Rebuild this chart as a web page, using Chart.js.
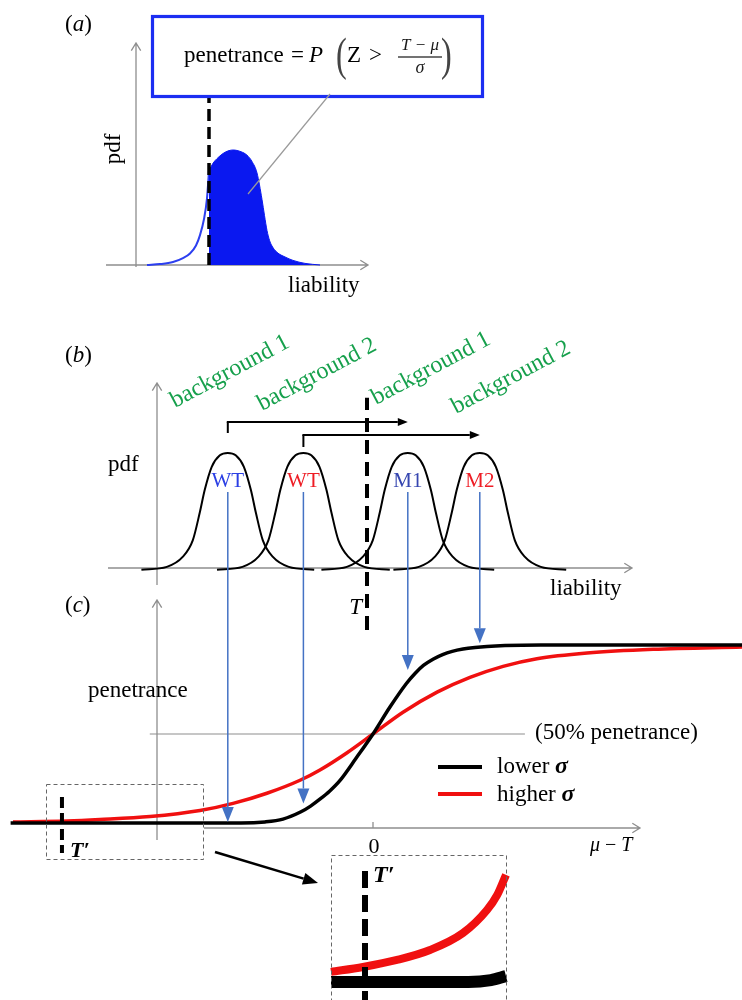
<!DOCTYPE html>
<html>
<head>
<meta charset="utf-8">
<title>liability threshold and penetrance</title>
<script src="https://cdn.jsdelivr.net/npm/chart.js@4.4.1/dist/chart.umd.min.js"></script>
<style>
  html, body { margin:0; padding:0; background:#fff; }
  canvas { display:block; }
</style>
</head>
<body>
<canvas id="fig" width="742" height="1000"></canvas>
<script>
/* three panels on one canvas, each panel has its own pair of hidden linear scales */

// (a) one liability distribution, cut at the threshold
const A_LIAB = [-4.3, -3.65, -3.0, -2.5, -2.15, -1.85, -1.65, -1.45, -1.3, -1.2, -1.0, -0.8, -0.4, 0,
                0.4, 0.7, 0.95, 1.2, 1.45, 1.575, 1.7, 1.825, 1.95, 2.2, 2.6, 3.0, 3.6, 4.35];
const A_PDF  = [0, 0.008, 0.026, 0.06, 0.1, 0.17, 0.26, 0.4, 0.58, 0.82, 0.885, 0.925, 0.98, 1,
                0.985, 0.955, 0.9, 0.8, 0.57, 0.43, 0.3, 0.215, 0.165, 0.11, 0.07, 0.04, 0.014, 0];
const A_THRESHOLD = -1.2;

// (b) the pdf shape (offset from its mean), same for the four distributions
const B_SHAPE_X   = [-3.6, -2.54, -1.88, -1.46, -1.17, -0.96, -0.67, -0.33, 0, 0.33, 0.67, 0.96, 1.17, 1.46, 1.88, 2.54, 3.6];
const B_SHAPE_PDF = [-0.015, 0.01, 0.096, 0.24, 0.48, 0.68, 0.88, 0.98, 1, 0.98, 0.88, 0.68, 0.48, 0.24, 0.096, 0.01, -0.015];
const B_MEANS  = [-5.8, -2.65, 1.7, 4.7];          // liability, T = 0
const B_LABELS = ['WT', 'WT', 'M1', 'M2'];
const B_LABEL_COLORS = ['#2b3fe4', '#ee1d25', '#3646b0', '#ee1d25'];
const B_BACKGROUNDS  = ['background 1', 'background 2', 'background 1', 'background 2'];

// (c) penetrance against mu - T
const C_LOWER_X  = [-15.1, -5.5, -4.5, -3.75, -3.0, -2.6, -2.2, -1.8, -1.4, -0.7, 0,
                    0.7, 1.4, 1.75, 2.1, 2.5, 2.9, 3.3, 3.75, 4.25, 4.75, 5.5, 7, 15.4];
const C_LOWER_Y  = [0, 0, 0.006, 0.022, 0.063, 0.095, 0.135, 0.18, 0.235, 0.365, 0.5,
                    0.65, 0.785, 0.84, 0.885, 0.92, 0.946, 0.964, 0.977, 0.986, 0.992, 0.997, 1.0, 1.0];
const C_HIGHER_X = [-15, -12.75, -11.38, -9.29, -7.21, -5.83, -4.42, -3.04, -2.21, -1.08, 0,
                    1.25, 2.67, 4.04, 5.42, 6.83, 8.92, 11.67, 15.4];
const C_HIGHER_Y = [0.006, 0.011, 0.019, 0.036, 0.07, 0.11, 0.167, 0.24, 0.298, 0.395, 0.5,
                    0.622, 0.735, 0.818, 0.88, 0.923, 0.955, 0.976, 0.989];
const C_ARROW_TIPS = [0.006, 0.11, 0.86, 1.01];    // where the blue arrows stop
const C_T_PRIME = -12.96;

// inset: the low tail, magnified
const D_HIGHER_X = [0, 1.28, 2.64, 3.96, 5.28, 6.24, 6.65, 7.0];
const D_HIGHER_Y = [0.0063, 0.0094, 0.0138, 0.02, 0.0306, 0.045, 0.0544, 0.067];
const D_LOWER_X  = [0, 5.5, 6.4, 7.0];
const D_LOWER_Y  = [0, 0, 0.0012, 0.0037];
const D_T_PRIME = 1.36;

const W = 742, H = 1000;
const SERIF = '"Liberation Serif", "Times New Roman", serif';
const AXIS_GREY = '#8e8e8e';
const ARROW_BLUE = '#4472c4';

// where each panel sits: [pixel of value 0, pixels per unit]
const PLACE = {
  xa: [233, 20], ya: [265, 115],
  xb: [367, 24], yb: [568, 115],
  xc: [373, 24], yc: [823, 178],
  xd: [331, 25], yd: [982, 1600]
};

const scales = {};
Object.keys(PLACE).forEach(id => {
  const [p0, ppu] = PLACE[id];
  const isX = id[0] === 'x';
  scales[id] = {
    type: 'linear', axis: isX ? 'x' : 'y', display: false,
    min: isX ? -p0 / ppu : -(H - p0) / ppu,
    max: isX ? (W - p0) / ppu : p0 / ppu
  };
});

const layers = [];   // bottom first
function addLine(xid, yid, xs, ys, style){
  layers.push(Object.assign({
    data: xs.map((x, i) => ({ x, y: ys[i] })),
    xAxisID: xid, yAxisID: yid,
    pointRadius: 0, fill: false,
    borderColor: '#000', borderWidth: 2,
    cubicInterpolationMode: 'monotone'
  }, style));
}
const straight = { cubicInterpolationMode: 'default', tension: 0 };

// (a)
const tailIdx = A_LIAB.map((x, i) => i).filter(i => A_LIAB[i] <= A_THRESHOLD);
const areaIdx = A_LIAB.map((x, i) => i).filter(i => A_LIAB[i] >= A_THRESHOLD);
addLine('xa', 'ya', tailIdx.map(i => A_LIAB[i]), tailIdx.map(i => A_PDF[i]), { borderColor: '#2c3ff0', borderWidth: 2 });
addLine('xa', 'ya', areaIdx.map(i => A_LIAB[i]), areaIdx.map(i => A_PDF[i]),
  { borderColor: '#0a18f0', borderWidth: 1, backgroundColor: '#0a18f0', fill: 'origin' });
addLine('xa', 'ya', [A_THRESHOLD, A_THRESHOLD], [0, 1.46], Object.assign({ borderWidth: 3.5, borderDash: [12, 6] }, straight));

// (b)
B_MEANS.forEach(m => addLine('xb', 'yb', B_SHAPE_X.map(d => m + d), B_SHAPE_PDF, { borderWidth: 2 }));
addLine('xb', 'yb', [0, 0], [-0.54, 1.48], Object.assign({ borderWidth: 4, borderDash: [14, 8] }, straight));

// (c)
addLine('xc', 'yc', [-9.3, 6.33], [0.5, 0.5], Object.assign({ borderColor: AXIS_GREY, borderWidth: 1.2 }, straight));
addLine('xc', 'yc', C_HIGHER_X, C_HIGHER_Y, { borderColor: '#f01010', borderWidth: 3.5 });
addLine('xc', 'yc', C_LOWER_X, C_LOWER_Y, { borderWidth: 3.5 });
addLine('xc', 'yc', [C_T_PRIME, C_T_PRIME], [0.146, -0.169], Object.assign({ borderWidth: 4, borderDash: [11, 5] }, straight));

// inset
addLine('xd', 'yd', D_HIGHER_X, D_HIGHER_Y, { borderColor: '#f01010', borderWidth: 8 });
addLine('xd', 'yd', D_LOWER_X, D_LOWER_Y, { borderWidth: 12 });
addLine('xd', 'yd', [D_T_PRIME, D_T_PRIME], [0.0694, -0.02], Object.assign({ borderWidth: 6, borderDash: [17, 7] }, straight));

layers.forEach((d, i) => d.order = layers.length - i);

// drawing helpers
function openArrow(ctx, x1, y1, x2, y2){
  const a = Math.atan2(y2 - y1, x2 - x1), L = 9, s = 0.55;
  ctx.save();
  ctx.strokeStyle = AXIS_GREY; ctx.lineWidth = 1.3;
  ctx.beginPath();
  ctx.moveTo(x1, y1); ctx.lineTo(x2, y2);
  ctx.moveTo(x2 - L * Math.cos(a - s), y2 - L * Math.sin(a - s));
  ctx.lineTo(x2, y2);
  ctx.lineTo(x2 - L * Math.cos(a + s), y2 - L * Math.sin(a + s));
  ctx.stroke();
  ctx.restore();
}
function solidArrow(ctx, x1, y1, x2, y2, color, lw, len, half){
  const a = Math.atan2(y2 - y1, x2 - x1);
  const bx = x2 - len * Math.cos(a), by = y2 - len * Math.sin(a);
  ctx.save();
  ctx.strokeStyle = color; ctx.fillStyle = color; ctx.lineWidth = lw;
  ctx.beginPath(); ctx.moveTo(x1, y1); ctx.lineTo(bx, by); ctx.stroke();
  ctx.beginPath();
  ctx.moveTo(x2, y2);
  ctx.lineTo(bx + half * Math.sin(a), by - half * Math.cos(a));
  ctx.lineTo(bx - half * Math.sin(a), by + half * Math.cos(a));
  ctx.closePath(); ctx.fill();
  ctx.restore();
}
function runs(ctx, x, y, parts){
  parts.forEach(([t, f, c]) => {
    ctx.font = f; ctx.fillStyle = c || '#000';
    ctx.fillText(t, x, y);
    x += ctx.measureText(t).width;
  });
}
function text(ctx, t, x, y, font, color, align){
  ctx.font = font; ctx.fillStyle = color || '#000'; ctx.textAlign = align || 'left';
  ctx.fillText(t, x, y);
  ctx.textAlign = 'left';
}
function dashedBox(ctx, x1, y1, x2, y2){
  ctx.save();
  ctx.strokeStyle = '#666'; ctx.lineWidth = 1; ctx.setLineDash([4, 3]);
  ctx.strokeRect(x1 + 0.5, y1 + 0.5, x2 - x1, y2 - y1);
  ctx.restore();
}
const f = (size, style) => (style ? style + ' ' : '') + size + 'px ' + SERIF;

const decor = {
  id: 'decor',
  beforeDatasetsDraw(chart){
    const ctx = chart.ctx, s = chart.scales;
    // axes
    openArrow(ctx, 136, 267, 136, 43);
    openArrow(ctx, 106, s.ya.getPixelForValue(0), 368, s.ya.getPixelForValue(0));
    openArrow(ctx, 157, 585, 157, 383);
    openArrow(ctx, 108, s.yb.getPixelForValue(0), 632, s.yb.getPixelForValue(0));
    openArrow(ctx, 157, 840, 157, 600);
    openArrow(ctx, 204, 828, 640, 828);
    ctx.save();
    ctx.strokeStyle = AXIS_GREY; ctx.lineWidth = 1.3;
    const x0 = s.xc.getPixelForValue(0);
    ctx.beginPath(); ctx.moveTo(x0, 822); ctx.lineTo(x0, 828); ctx.stroke();
    ctx.restore();
  },
  afterDatasetsDraw(chart){
    const ctx = chart.ctx, s = chart.scales;
    ctx.textBaseline = 'alphabetic';

    // ---- (a)
    runs(ctx, 65, 31, [['(', f(23)], ['a', f(23, 'italic')], [')', f(23)]]);
    ctx.save();
    ctx.translate(120, 149); ctx.rotate(-Math.PI / 2);
    text(ctx, 'pdf', 0, 0, f(23), '#000', 'center');
    ctx.restore();
    text(ctx, 'liability', 288, 292, f(23));

    ctx.save();
    ctx.strokeStyle = '#1c2ef2'; ctx.lineWidth = 3.2;
    ctx.strokeRect(152.5, 16.5, 330, 80);
    ctx.restore();

    text(ctx, 'penetrance', 184, 62, f(23));
    text(ctx, '=', 291, 62, f(23));
    text(ctx, 'P', 309, 62, f(23, 'italic'));
    text(ctx, 'Z', 347, 62, f(23));
    text(ctx, '>', 369, 62, f(23));
    ctx.save();
    ctx.font = f(17, 'italic'); ctx.fillStyle = '#1a1a1a';
    const num = 'T \u2212 \u03bc', nw = ctx.measureText(num).width;
    ctx.fillText(num, 420 - nw / 2, 50);
    ctx.font = f(18, 'italic');
    ctx.fillText('\u03c3', 420 - ctx.measureText('\u03c3').width / 2, 73);
    ctx.strokeStyle = '#444'; ctx.lineWidth = 1.5;
    ctx.beginPath(); ctx.moveTo(398, 57); ctx.lineTo(442, 57); ctx.stroke();
    ctx.font = f(46); ctx.fillStyle = '#444';
    ctx.translate(336, 70); ctx.scale(0.7, 1); ctx.fillText('(', 0, 0);
    ctx.restore();
    ctx.save();
    ctx.font = f(46); ctx.fillStyle = '#444';
    ctx.translate(441, 70); ctx.scale(0.7, 1); ctx.fillText(')', 0, 0);
    ctx.restore();

    ctx.save();
    ctx.strokeStyle = '#9a9a9a'; ctx.lineWidth = 1.2;
    ctx.beginPath(); ctx.moveTo(330, 94); ctx.lineTo(248, 194); ctx.stroke();
    ctx.restore();

    // ---- (b)
    runs(ctx, 65, 362, [['(', f(23)], ['b', f(23, 'italic')], [')', f(23)]]);
    text(ctx, 'pdf', 108, 471, f(23));
    text(ctx, 'liability', 550, 595, f(23));
    text(ctx, 'T', 362, 614, f(23, 'italic'), '#000', 'right');

    const bgBase = [[175, 408], [262, 411], [376, 405], [456, 414]];
    B_BACKGROUNDS.forEach((t, i) => {
      ctx.save();
      ctx.translate(bgBase[i][0], bgBase[i][1]); ctx.rotate(-28 * Math.PI / 180);
      text(ctx, t, 0, 0, f(24), '#16a04c');
      ctx.restore();
    });

    const centers = B_MEANS.map(m => s.xb.getPixelForValue(m));
    B_LABELS.forEach((t, i) => text(ctx, t, centers[i], 487, f(21), B_LABEL_COLORS[i], 'center'));

    // background shift brackets: WT -> mutant in the same background
    [[0, 2, 433, 422], [1, 3, 447, 435]].forEach(([from, to, yLow, yHigh]) => {
      ctx.save();
      ctx.strokeStyle = '#000'; ctx.lineWidth = 2;
      ctx.beginPath(); ctx.moveTo(centers[from], yLow); ctx.lineTo(centers[from], yHigh); ctx.stroke();
      ctx.restore();
      solidArrow(ctx, centers[from] - 1, yHigh, centers[to], yHigh, '#000', 2, 10, 4);
    });

    // blue arrows from each distribution to its penetrance
    const yStart = s.yb.getPixelForValue(0.66);
    C_ARROW_TIPS.forEach((p, i) => {
      solidArrow(ctx, centers[i], yStart, centers[i], s.yc.getPixelForValue(p), ARROW_BLUE, 1.5, 15, 6);
    });

    // ---- (c)
    runs(ctx, 65, 612, [['(', f(23)], ['c', f(23, 'italic')], [')', f(23)]]);
    text(ctx, 'penetrance', 88, 697, f(23));
    text(ctx, '(50% penetrance)', 535, 739, f(23));
    text(ctx, '0', s.xc.getPixelForValue(0) + 1, 853, f(22), '#000', 'center');
    runs(ctx, 590, 851, [['\u03bc', f(20, 'italic')], [' \u2212 ', f(20)], ['T', f(20, 'italic')]]);

    ctx.save();
    ctx.lineWidth = 4;
    ctx.strokeStyle = '#000';
    ctx.beginPath(); ctx.moveTo(438, 767); ctx.lineTo(482, 767); ctx.stroke();
    ctx.strokeStyle = '#f01010';
    ctx.beginPath(); ctx.moveTo(438, 794); ctx.lineTo(482, 794); ctx.stroke();
    ctx.restore();
    runs(ctx, 497, 773, [['lower ', f(23)], ['\u03c3', f(24, 'italic bold')]]);
    runs(ctx, 497, 801, [['higher ', f(23)], ['\u03c3', f(24, 'italic bold')]]);

    dashedBox(ctx, 46, 784, 203, 859);
    text(ctx, 'T\u2032', 70, 857, f(22, 'italic bold'));
    solidArrow(ctx, 215, 852, 318, 883, '#000', 2.5, 15, 6);

    // ---- inset
    dashedBox(ctx, 331, 855, 506, 1002);
    text(ctx, 'T\u2032', 373, 882, f(24, 'italic bold'));
  }
};

new Chart(document.getElementById('fig'), {
  type: 'line',
  data: { datasets: layers },
  options: {
    responsive: false,
    animation: false,
    events: [],
    layout: { padding: 0 },
    scales,
    plugins: { legend: { display: false }, tooltip: { enabled: false } }
  },
  plugins: [decor]
});
</script>
</body>
</html>
